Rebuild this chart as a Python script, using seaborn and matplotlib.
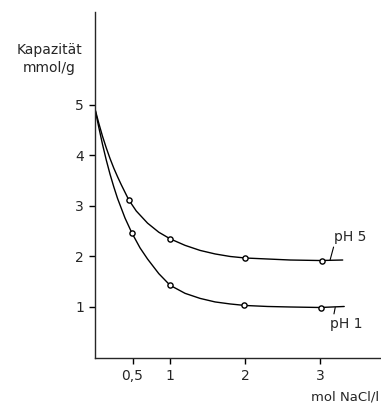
import matplotlib
matplotlib.use("Agg")
import matplotlib.pyplot as plt
import seaborn as sns
import pandas as pd

# measured points
ph5_x = [0.45, 1.0, 2.0, 3.03]
ph5_y = [3.12, 2.35, 1.97, 1.92]
ph1_x = [0.49, 1.0, 1.99, 3.01]
ph1_y = [2.47, 1.43, 1.03, 0.98]

# fitted curve
c5_x = [0.0, 0.05, 0.1, 0.15, 0.2, 0.25, 0.3, 0.35, 0.4, 0.45, 0.55, 0.7, 0.85, 1.0, 1.2, 1.4, 1.6, 1.8, 2.0, 2.3, 2.6, 3.0, 3.3]
c5_y = [4.92, 4.64, 4.38, 4.15, 3.94, 3.75, 3.58, 3.42, 3.27, 3.12, 2.90, 2.66, 2.48, 2.35, 2.22, 2.12, 2.05, 2.00, 1.97, 1.95, 1.93, 1.92, 1.93]
c1_x = [0.0, 0.05, 0.1, 0.15, 0.2, 0.25, 0.3, 0.4, 0.49, 0.6, 0.7, 0.85, 1.0, 1.2, 1.4, 1.6, 1.8, 2.0, 2.3, 2.6, 3.0, 3.32]
c1_y = [4.92, 4.56, 4.22, 3.91, 3.63, 3.38, 3.15, 2.76, 2.47, 2.17, 1.95, 1.66, 1.43, 1.27, 1.17, 1.10, 1.06, 1.03, 1.01, 1.00, 0.99, 1.01]

x_ticks = [0.5, 1, 2, 3]
x_tick_labels = ["0,5", "1", "2", "3"]
y_ticks = [1, 2, 3, 4, 5]

sns.set_style("ticks")
plt.rcParams['font.family'] = ['DejaVu Sans']

fig = plt.figure(figsize=(3.81, 4.09), dpi=100)
ax = fig.add_axes([95/381, 51.5/409, 286/381, 345.5/409])

curves = pd.DataFrame({"x": c5_x + c1_x, "y": c5_y + c1_y,
                       "s": ["pH 5"] * len(c5_x) + ["pH 1"] * len(c1_x)})
pts = pd.DataFrame({"x": ph5_x + ph1_x, "y": ph5_y + ph1_y,
                    "s": ["pH 5"] * len(ph5_x) + ["pH 1"] * len(ph1_x)})

sns.lineplot(data=curves, x="x", y="y", units="s", estimator=None, sort=False,
             color="black", lw=1.0, ax=ax)
sns.scatterplot(data=pts, x="x", y="y", marker="o", s=14, facecolor="white",
                edgecolor="black", linewidth=1.0, zorder=3, ax=ax)

ax.set_xlim(0, 3.81)
ax.set_ylim(0, 6.84)
ax.set_xticks(x_ticks)
ax.set_xticklabels(x_tick_labels)
ax.set_yticks(y_ticks)
ax.tick_params(axis="both", labelsize=10, length=4, width=1, color="black", pad=4)
ax.set_xlabel("")
ax.set_ylabel("")
sns.despine(ax=ax)
for sp in ax.spines.values():
    sp.set_linewidth(1.0)

# labels with leader lines
ax.annotate("pH 5", xy=(3.13, 1.92), xytext=(3.19, 2.39), fontsize=10,
            ha="left", va="center",
            arrowprops=dict(arrowstyle="-", color="black", lw=0.8, shrinkA=0, shrinkB=0,
                            relpos=(0.0, 0.0)))
ax.annotate("pH 1", xy=(3.2, 0.99), xytext=(3.13, 0.66), fontsize=10,
            ha="left", va="center",
            arrowprops=dict(arrowstyle="-", color="black", lw=0.8, shrinkA=0, shrinkB=0,
                            relpos=(0.1, 0.95)))

fig.text(82/381, 1 - 50/409, "Kapazität", ha="right", va="center", fontsize=10)
fig.text(76/381, 1 - 68/409, "mmol/g", ha="right", va="center", fontsize=10)
fig.text(1 - 2/381, 1 - 397/409, "mol NaCl/l", ha="right", va="center", fontsize=9.5)

fig.savefig("out.png", dpi=100)
